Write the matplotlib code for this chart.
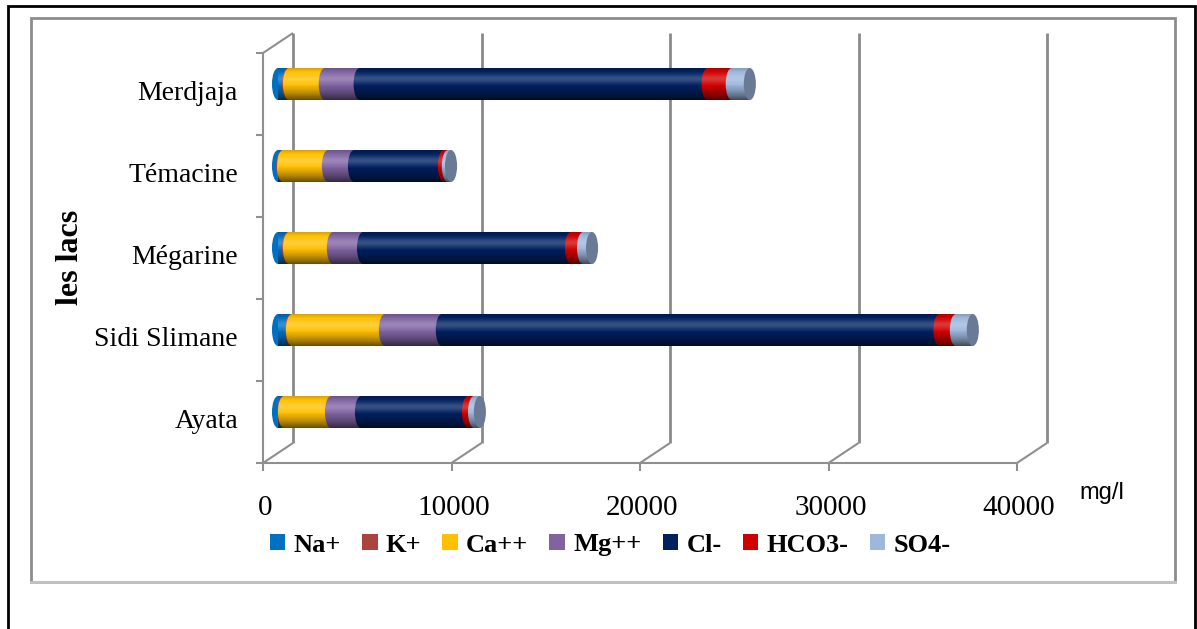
import numpy as np
import matplotlib.pyplot as plt
from matplotlib.patches import Rectangle, Ellipse, PathPatch, Patch
from matplotlib.path import Path
from matplotlib.transforms import offset_copy, IdentityTransform

# data (mg/l), lakes from bottom to top
lakes = ['Ayata', 'Sidi Slimane', 'Mégarine', 'Témacine', 'Merdjaja']
ions = ['Na+', 'K+', 'Ca++', 'Mg++', 'Cl-', 'HCO3-', 'SO4-']
na = [270, 680, 520, 220, 520]
k = [50, 60, 60, 45, 60]
ca = [2490, 4930, 2330, 2385, 1900]
mg = [1590, 3020, 1600, 1380, 1850]
cl = [5680, 26400, 11030, 4770, 18460]
hco3 = [320, 870, 640, 210, 1280]
so4 = [310, 900, 480, 170, 960]
colors = ['#0070C0', '#A9443F', '#FFC000', '#8064A2', '#002060', '#D00000', '#9DB7DD']
xticks = [0, 10000, 20000, 30000, 40000]

W, H = 1197, 629
plt.rcParams['font.family'] = ['Liberation Serif', 'DejaVu Serif']
fig = plt.figure(figsize=(W / 100, H / 100), dpi=100)

# borders
fig.add_artist(Rectangle((8 / W, -0.05), (1195 - 8) / W, (629 - 6) / H + 0.05,
                         fill=False, edgecolor='black', lw=2, transform=fig.transFigure))
fig.add_artist(Rectangle((31 / W, 1 - 582 / H), (1175 - 31) / W, (582 - 18) / H,
                         fill=False, edgecolor='#8c8c8c', lw=2, transform=fig.transFigure))
fig.add_artist(plt.Line2D([31 / W, 1175 / W], [1 - 582 / H, 1 - 582 / H],
                          color='#c4c4c4', lw=2, transform=fig.transFigure))

# middle depth plane of the 3d chart
ax = fig.add_axes([278 / W, 1 - 453 / H, 754 / W, 410 / H])
ax.set_xlim(0, 40000)
ax.set_ylim(-0.5, 4.5)
ax.axis('off')

DX, DY = 15, 10  # depth offset in pixels
back = offset_copy(ax.transData, fig=fig, x=DX, y=DY, units='dots')
front = offset_copy(ax.transData, fig=fig, x=-DX, y=-DY, units='dots')


def px(x, y, d=0, ox=0, oy=0):
    p = ax.transData.transform((x, y))
    return p[0] + d * DX + ox, p[1] + d * DY + oy


def pline(p1, p2, **kw):
    ax.plot([p1[0], p2[0]], [p1[1], p2[1]], transform=IdentityTransform(),
            clip_on=False, **kw)


wall = dict(color='#8a8a8a', lw=2, solid_capstyle='butt')
thin = dict(color='#8f8f8f', lw=1.5, solid_capstyle='butt')

for v in xticks:
    ax.plot([v, v], [-0.5, 4.5], transform=back, clip_on=False, **wall)
    pline(px(v, -0.5, 1), px(v, -0.5, -1), **thin)
    pline(px(v, -0.5, -1), px(v, -0.5, -1, oy=-8), **thin)
    ax.text(v, -0.5, f'{v}', transform=offset_copy(front, fig=fig, x=2, y=-45, units='dots'),
            ha='center', va='center', fontsize=21)

ax.plot([0, 40000], [-0.5, -0.5], transform=front, clip_on=False, **thin)
ax.plot([0, 0], [-0.5, 4.5], transform=front, clip_on=False, **thin)
pline(px(0, 4.5, -1), px(0, 4.5, 1), **thin)
for yb in np.arange(-0.5, 5, 1):
    pline(px(0, yb, -1), px(0, yb, -1, ox=-7), **thin)

# cylinders
data = np.array([na, k, ca, mg, cl, hco3, so4], dtype=float)
bh = 0.39
ew = 640
t = np.linspace(0, 1, 80)
white_a = 0.22 * np.exp(-((t - 0.33) / 0.15) ** 2)
black_a = 0.6 * np.clip((t - 0.45) / 0.55, 0, 1) ** 1.5 + 0.15 * np.clip((0.12 - t) / 0.12, 0, 1)
shade = np.zeros((len(t), 1, 4))
use_white = white_a > black_a
shade[:, 0, 0:3] = np.where(use_white, 1.0, 0.0)[:, None]
shade[:, 0, 3] = np.where(use_white, white_a, black_a)

for i, lake in enumerate(lakes):
    vals = data[:, i]
    starts = np.concatenate([[0], np.cumsum(vals)[:-1]])
    total = vals.sum()
    for j in range(len(ions)):
        ax.add_patch(Rectangle((starts[j], i - bh / 2), vals[j], bh, color=colors[j], lw=0,
                               zorder=2, clip_on=False))
        ax.add_patch(Ellipse((starts[j], i), ew, bh, color=colors[j], lw=0, zorder=2,
                             clip_on=False))
    ang = np.linspace(np.pi / 2, 3 * np.pi / 2, 30)
    verts = list(zip(ew / 2 * np.cos(ang), i + bh / 2 * np.sin(ang)))
    verts += [(total, i - bh / 2), (total, i + bh / 2), verts[0]]
    clip = PathPatch(Path(verts), transform=ax.transData, facecolor='none', lw=0)
    im = ax.imshow(shade, extent=(-ew / 2, total, i - bh / 2, i + bh / 2), aspect='auto',
                   zorder=3, interpolation='bilinear')
    im.set_clip_box(None)
    im.set_clip_path(clip)
    ax.add_patch(Ellipse((total, i), ew, bh, color='#6a7995', lw=0, zorder=4, clip_on=False))
    ax.text(0, i, lake, transform=offset_copy(ax.transData, fig=fig, x=-40, y=-10, units='dots'),
            ha='right', va='center', fontsize=20)

ax.set_xlim(0, 40000)
ax.set_ylim(-0.5, 4.5)

fig.text(70 / W, 1 - 257 / H, 'les lacs', rotation=90, fontweight='bold', fontsize=23,
         ha='center', va='center')
fig.text(1102 / W, 1 - 493 / H, 'mg/l', family='Liberation Sans', fontsize=17,
         ha='center', va='center')

handles = [Patch(facecolor=c, edgecolor='none') for c in colors]
fig.legend(handles, ions, loc='center', bbox_to_anchor=(610 / W, 1 - 545 / H), ncol=7,
           frameon=False, prop=dict(family='Liberation Serif', weight='bold', size=19),
           handlelength=0.6, handleheight=0.55, handletextpad=0.3, columnspacing=0.8)

fig.savefig('out.png', dpi=100)
